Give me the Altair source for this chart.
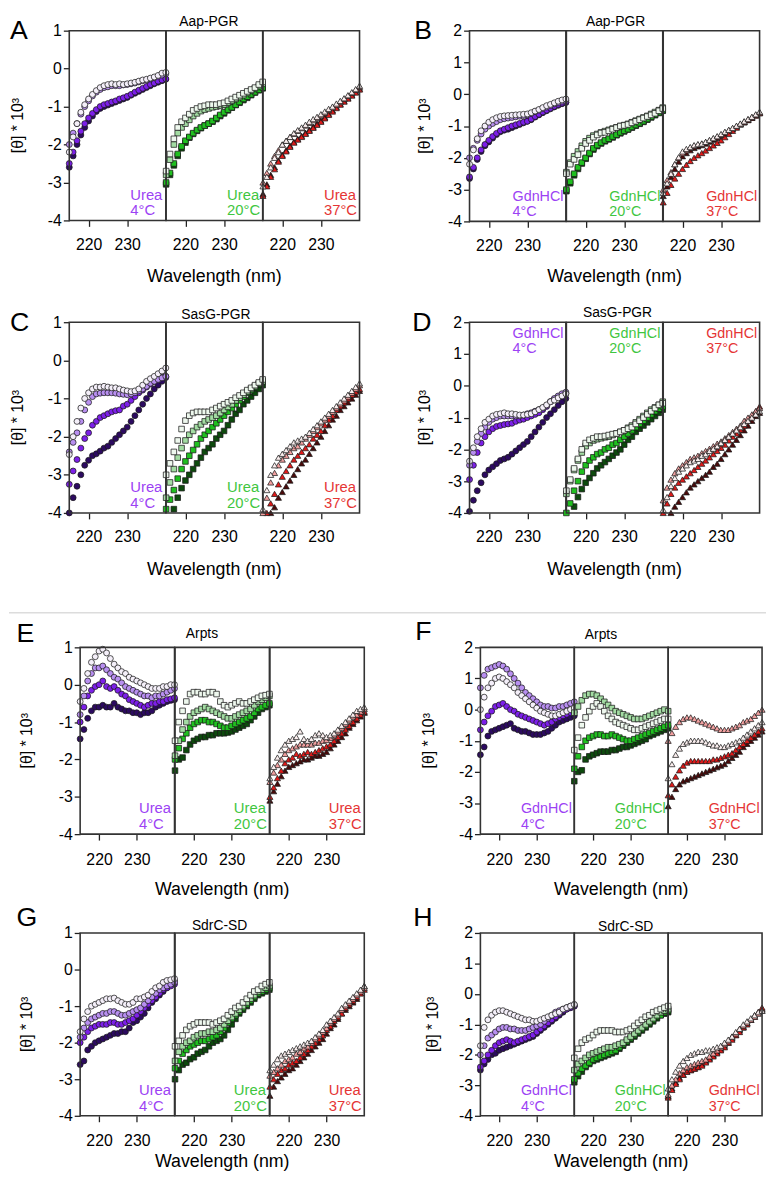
import altair as alt
import pandas as pd

FONT = "Liberation Sans"
WL = list(range(215, 241))
TEMPS = ["4°C", "20°C", "37°C"]
SHAPES = ["circle", "square", "triangle-up"]
SIZES = [36, 32, 38]
# series order in each list: lightest (white), light, medium, dark
SHADES = [
    ["#f4eff9", "#b88ff0", "#7c1fe8", "#2c0a60"],
    ["#eef8ee", "#a3dca3", "#20c020", "#0d4a0d"],
    ["#faeeee", "#f2a0a0", "#e01a1a", "#4a0a0a"],
]
TEXT_COLORS = ["#9c42f4", "#3fc63f", "#e53535"]

# ---------------- Panel A: Aap-PGR, Urea ----------------
A_4 = [
    [-2.2,-1.8,-1.45,-1.15,-0.95,-0.8,-0.68,-0.58,-0.5,-0.45,-0.42,-0.4,-0.42,-0.4,-0.42,-0.4,-0.38,-0.36,-0.33,-0.3,-0.28,-0.25,-0.22,-0.18,-0.12,-0.1],
    [-2.0,-1.7,-1.45,-1.2,-1.0,-0.85,-0.72,-0.62,-0.55,-0.5,-0.48,-0.45,-0.45,-0.45,-0.43,-0.42,-0.4,-0.38,-0.35,-0.32,-0.3,-0.27,-0.24,-0.2,-0.17,-0.14],
    [-2.5,-2.2,-1.9,-1.65,-1.45,-1.3,-1.18,-1.08,-1.0,-0.95,-0.92,-0.88,-0.85,-0.8,-0.77,-0.73,-0.68,-0.62,-0.57,-0.52,-0.47,-0.42,-0.38,-0.33,-0.3,-0.27],
    [-2.6,-2.3,-2.0,-1.75,-1.55,-1.38,-1.25,-1.13,-1.05,-1.0,-0.96,-0.92,-0.88,-0.84,-0.8,-0.76,-0.7,-0.65,-0.6,-0.55,-0.5,-0.45,-0.4,-0.36,-0.32,-0.28],
]
A_20 = [
    [-2.7,-2.25,-1.85,-1.55,-1.4,-1.3,-1.2,-1.1,-1.05,-1.0,-0.98,-0.95,-0.95,-0.95,-0.92,-0.9,-0.85,-0.8,-0.75,-0.7,-0.65,-0.6,-0.55,-0.5,-0.42,-0.35],
    [-2.8,-2.4,-2.0,-1.7,-1.55,-1.45,-1.35,-1.25,-1.18,-1.12,-1.08,-1.05,-1.02,-1.0,-0.98,-0.95,-0.9,-0.85,-0.8,-0.75,-0.7,-0.64,-0.58,-0.52,-0.46,-0.4],
    [-3.0,-2.75,-2.5,-2.25,-2.05,-1.9,-1.8,-1.7,-1.62,-1.55,-1.5,-1.45,-1.38,-1.3,-1.22,-1.15,-1.08,-1.02,-0.95,-0.88,-0.8,-0.74,-0.68,-0.62,-0.56,-0.5],
    [-3.05,-2.8,-2.55,-2.3,-2.1,-1.95,-1.82,-1.72,-1.64,-1.57,-1.5,-1.45,-1.4,-1.33,-1.25,-1.18,-1.1,-1.03,-0.96,-0.9,-0.83,-0.77,-0.7,-0.63,-0.57,-0.52],
]
A_37 = [
    [-3.1,-2.85,-2.6,-2.35,-2.2,-2.0,-1.9,-1.8,-1.7,-1.62,-1.55,-1.48,-1.4,-1.33,-1.27,-1.2,-1.13,-1.06,-1.0,-0.92,-0.85,-0.78,-0.7,-0.62,-0.54,-0.45],
    [-3.0,-2.75,-2.5,-2.3,-2.15,-2.0,-1.9,-1.8,-1.72,-1.64,-1.57,-1.5,-1.43,-1.36,-1.3,-1.23,-1.16,-1.09,-1.02,-0.95,-0.88,-0.8,-0.72,-0.64,-0.56,-0.48],
    [-3.35,-3.1,-2.85,-2.65,-2.45,-2.3,-2.18,-2.06,-1.95,-1.87,-1.8,-1.72,-1.64,-1.56,-1.48,-1.4,-1.31,-1.22,-1.13,-1.04,-0.95,-0.87,-0.79,-0.71,-0.63,-0.55],
    [-3.3,-3.05,-2.8,-2.6,-2.42,-2.27,-2.15,-2.03,-1.93,-1.85,-1.77,-1.69,-1.61,-1.53,-1.45,-1.37,-1.28,-1.19,-1.1,-1.01,-0.93,-0.85,-0.77,-0.69,-0.61,-0.53],
]
# ---------------- Panel B: Aap-PGR, GdnHCl ----------------
B_4 = [
    [-2.2,-1.75,-1.4,-1.15,-1.0,-0.88,-0.8,-0.74,-0.7,-0.68,-0.67,-0.66,-0.65,-0.64,-0.63,-0.62,-0.58,-0.53,-0.48,-0.42,-0.36,-0.32,-0.27,-0.22,-0.18,-0.15],
    [-2.0,-1.7,-1.45,-1.25,-1.1,-1.0,-0.92,-0.86,-0.8,-0.77,-0.75,-0.73,-0.71,-0.69,-0.67,-0.65,-0.6,-0.55,-0.5,-0.45,-0.4,-0.35,-0.3,-0.26,-0.22,-0.2],
    [-2.6,-2.3,-2.0,-1.75,-1.58,-1.45,-1.33,-1.23,-1.15,-1.1,-1.05,-1.0,-0.96,-0.92,-0.88,-0.85,-0.78,-0.7,-0.63,-0.56,-0.5,-0.44,-0.38,-0.32,-0.28,-0.25],
    [-2.65,-2.35,-2.05,-1.8,-1.62,-1.5,-1.38,-1.27,-1.18,-1.13,-1.1,-1.05,-1.0,-0.95,-0.9,-0.85,-0.8,-0.72,-0.65,-0.58,-0.52,-0.46,-0.4,-0.35,-0.3,-0.26],
]
B_20 = [
    [-2.5,-2.2,-2.05,-1.9,-1.7,-1.55,-1.45,-1.35,-1.28,-1.22,-1.2,-1.15,-1.1,-1.05,-1.0,-0.98,-0.95,-0.9,-0.85,-0.8,-0.75,-0.7,-0.65,-0.6,-0.52,-0.45],
    [-2.45,-2.15,-1.95,-1.8,-1.62,-1.48,-1.38,-1.3,-1.25,-1.2,-1.16,-1.12,-1.08,-1.04,-1.0,-0.97,-0.93,-0.88,-0.83,-0.78,-0.73,-0.68,-0.62,-0.56,-0.5,-0.42],
    [-3.0,-2.75,-2.5,-2.3,-2.15,-2.0,-1.85,-1.7,-1.6,-1.52,-1.45,-1.4,-1.33,-1.27,-1.2,-1.15,-1.1,-1.03,-0.97,-0.91,-0.85,-0.78,-0.71,-0.64,-0.57,-0.5],
    [-3.05,-2.8,-2.55,-2.35,-2.18,-2.03,-1.88,-1.74,-1.63,-1.55,-1.48,-1.42,-1.36,-1.29,-1.23,-1.17,-1.11,-1.05,-0.99,-0.93,-0.87,-0.8,-0.73,-0.66,-0.59,-0.52],
]
B_37 = [
    [-3.1,-2.8,-2.5,-2.2,-1.98,-1.8,-1.72,-1.66,-1.6,-1.57,-1.55,-1.5,-1.44,-1.38,-1.32,-1.25,-1.18,-1.12,-1.06,-0.99,-0.92,-0.85,-0.78,-0.71,-0.63,-0.55],
    [-3.0,-2.7,-2.45,-2.2,-2.0,-1.85,-1.76,-1.68,-1.62,-1.58,-1.55,-1.5,-1.45,-1.39,-1.33,-1.27,-1.2,-1.13,-1.07,-1.0,-0.93,-0.86,-0.79,-0.72,-0.65,-0.58],
    [-3.4,-3.1,-2.85,-2.65,-2.5,-2.35,-2.22,-2.1,-2.0,-1.92,-1.85,-1.77,-1.69,-1.61,-1.53,-1.45,-1.35,-1.25,-1.15,-1.05,-0.95,-0.88,-0.81,-0.74,-0.67,-0.6],
    [-3.2,-2.9,-2.6,-2.35,-2.12,-1.95,-1.85,-1.76,-1.69,-1.64,-1.6,-1.55,-1.49,-1.43,-1.37,-1.3,-1.23,-1.16,-1.09,-1.02,-0.95,-0.88,-0.81,-0.74,-0.66,-0.58],
]
# ---------------- Panel C: SasG-PGR, Urea ----------------
C_4 = [
    [-2.47,-2.0,-1.6,-1.25,-1.0,-0.85,-0.75,-0.7,-0.7,-0.68,-0.7,-0.72,-0.72,-0.75,-0.78,-0.8,-0.82,-0.8,-0.75,-0.65,-0.55,-0.48,-0.42,-0.35,-0.28,-0.2],
    [-2.4,-2.15,-1.9,-1.6,-1.3,-1.1,-0.95,-0.88,-0.86,-0.85,-0.85,-0.85,-0.86,-0.88,-0.89,-0.9,-0.88,-0.85,-0.8,-0.75,-0.68,-0.6,-0.55,-0.5,-0.46,-0.42],
    [-3.25,-2.9,-2.6,-2.3,-2.05,-1.9,-1.7,-1.6,-1.5,-1.45,-1.4,-1.35,-1.32,-1.3,-1.2,-1.15,-1.05,-0.95,-0.85,-0.78,-0.7,-0.62,-0.55,-0.5,-0.45,-0.42],
    [-4.0,-3.6,-3.3,-3.0,-2.75,-2.62,-2.5,-2.45,-2.38,-2.3,-2.25,-2.15,-2.05,-1.95,-1.85,-1.75,-1.6,-1.45,-1.3,-1.15,-1.0,-0.88,-0.75,-0.65,-0.55,-0.45],
]
C_20 = [
    [-3.0,-2.7,-2.4,-2.1,-1.8,-1.58,-1.45,-1.38,-1.35,-1.35,-1.35,-1.35,-1.3,-1.25,-1.2,-1.15,-1.1,-1.05,-0.98,-0.92,-0.85,-0.78,-0.72,-0.65,-0.58,-0.5],
    [-3.6,-3.2,-2.85,-2.55,-2.3,-2.1,-1.95,-1.85,-1.75,-1.68,-1.6,-1.55,-1.5,-1.45,-1.38,-1.3,-1.22,-1.15,-1.05,-0.98,-0.9,-0.82,-0.75,-0.68,-0.6,-0.55],
    [-3.9,-3.65,-3.4,-3.1,-2.85,-2.65,-2.5,-2.35,-2.2,-2.05,-1.95,-1.85,-1.75,-1.65,-1.55,-1.45,-1.35,-1.25,-1.15,-1.05,-0.95,-0.85,-0.78,-0.7,-0.62,-0.55],
    [None,None,-3.9,-3.6,-3.35,-3.15,-3.0,-2.85,-2.7,-2.55,-2.4,-2.3,-2.2,-2.05,-1.95,-1.85,-1.7,-1.55,-1.4,-1.3,-1.15,-1.05,-0.95,-0.85,-0.75,-0.65],
]
C_37 = [
    [-3.9,-3.4,-3.0,-2.75,-2.55,-2.45,-2.35,-2.25,-2.15,-2.1,-2.05,-2.0,-1.9,-1.8,-1.7,-1.6,-1.5,-1.4,-1.3,-1.2,-1.1,-1.0,-0.9,-0.8,-0.7,-0.6],
    [-4.0,-3.6,-3.2,-2.95,-2.75,-2.6,-2.5,-2.4,-2.3,-2.25,-2.15,-2.05,-1.95,-1.85,-1.75,-1.65,-1.55,-1.45,-1.35,-1.25,-1.15,-1.05,-0.95,-0.85,-0.75,-0.65],
    [None,-4.0,-3.75,-3.5,-3.25,-3.05,-2.9,-2.75,-2.6,-2.5,-2.4,-2.3,-2.2,-2.05,-1.95,-1.85,-1.7,-1.55,-1.45,-1.3,-1.2,-1.1,-1.0,-0.9,-0.82,-0.75],
    [None,None,-4.0,-3.85,-3.6,-3.45,-3.3,-3.15,-3.0,-2.85,-2.7,-2.6,-2.45,-2.3,-2.15,-2.0,-1.85,-1.7,-1.55,-1.45,-1.3,-1.2,-1.1,-1.0,-0.9,-0.8],
]
# ---------------- Panel D: SasG-PGR, GdnHCl ----------------
D_4 = [
    [-2.37,-1.95,-1.6,-1.35,-1.15,-1.05,-0.95,-0.9,-0.88,-0.85,-0.88,-0.88,-0.9,-0.92,-0.92,-0.9,-0.88,-0.82,-0.75,-0.68,-0.6,-0.5,-0.45,-0.38,-0.32,-0.25],
    [-2.5,-2.1,-1.75,-1.5,-1.3,-1.15,-1.05,-1.0,-0.95,-0.95,-0.95,-0.95,-0.95,-0.95,-0.92,-0.88,-0.85,-0.8,-0.75,-0.7,-0.62,-0.5,-0.4,-0.32,-0.25,-0.2],
    [-2.95,-2.5,-2.1,-1.8,-1.6,-1.45,-1.35,-1.28,-1.25,-1.22,-1.2,-1.18,-1.12,-1.08,-1.05,-1.0,-0.95,-0.9,-0.85,-0.75,-0.65,-0.5,-0.42,-0.35,-0.3,-0.25],
    [-3.95,-3.6,-3.3,-3.05,-2.8,-2.65,-2.55,-2.45,-2.35,-2.3,-2.25,-2.15,-2.05,-1.95,-1.85,-1.75,-1.6,-1.45,-1.3,-1.15,-1.0,-0.88,-0.75,-0.62,-0.5,-0.4],
]
D_20 = [
    [-3.3,-2.95,-2.6,-2.3,-2.0,-1.8,-1.7,-1.65,-1.6,-1.6,-1.58,-1.55,-1.52,-1.5,-1.45,-1.4,-1.35,-1.3,-1.2,-1.1,-1.0,-0.9,-0.8,-0.7,-0.6,-0.55],
    [-3.4,-3.0,-2.65,-2.35,-2.1,-1.9,-1.8,-1.72,-1.68,-1.65,-1.62,-1.6,-1.55,-1.5,-1.45,-1.4,-1.32,-1.25,-1.15,-1.05,-0.95,-0.85,-0.75,-0.68,-0.6,-0.5],
    [-4.0,-3.7,-3.3,-3.0,-2.7,-2.5,-2.35,-2.25,-2.15,-2.1,-2.0,-1.95,-1.85,-1.8,-1.7,-1.6,-1.5,-1.4,-1.3,-1.2,-1.1,-1.0,-0.9,-0.8,-0.72,-0.65],
    [None,None,-3.8,-3.5,-3.25,-3.05,-2.9,-2.75,-2.6,-2.5,-2.4,-2.3,-2.2,-2.1,-2.0,-1.85,-1.7,-1.6,-1.45,-1.35,-1.25,-1.15,-1.05,-0.95,-0.85,-0.75],
]
D_37 = [
    [-3.9,-3.5,-3.15,-2.9,-2.7,-2.6,-2.5,-2.4,-2.35,-2.3,-2.2,-2.15,-2.05,-1.98,-1.9,-1.8,-1.7,-1.6,-1.5,-1.4,-1.3,-1.2,-1.1,-1.0,-0.9,-0.8],
    [-3.6,-3.2,-2.95,-2.75,-2.6,-2.5,-2.4,-2.3,-2.25,-2.2,-2.12,-2.05,-1.98,-1.9,-1.82,-1.75,-1.65,-1.55,-1.45,-1.35,-1.25,-1.1,-1.0,-0.9,-0.8,-0.7],
    [-4.0,-3.7,-3.4,-3.2,-3.05,-2.95,-2.85,-2.75,-2.65,-2.55,-2.45,-2.35,-2.25,-2.15,-2.05,-1.95,-1.85,-1.72,-1.6,-1.5,-1.38,-1.25,-1.1,-0.95,-0.8,-0.65],
    [None,None,-4.0,-3.8,-3.65,-3.5,-3.35,-3.2,-3.1,-3.0,-2.9,-2.8,-2.7,-2.55,-2.45,-2.3,-2.15,-2.0,-1.85,-1.7,-1.55,-1.4,-1.25,-1.1,-0.95,-0.85],
]
# ---------------- Panel E: Arpts, Urea ----------------
E_4 = [
    [-0.45,-0.1,0.3,0.6,0.75,0.9,0.95,0.85,0.7,0.55,0.45,0.35,0.3,0.2,0.15,0.1,0.05,0.0,-0.05,-0.1,-0.1,-0.1,-0.05,-0.05,0.0,0.0],
    [-0.8,-0.3,0.1,0.3,0.45,0.45,0.5,0.4,0.3,0.2,0.15,0.05,-0.05,-0.1,-0.15,-0.2,-0.25,-0.3,-0.3,-0.35,-0.3,-0.3,-0.25,-0.2,-0.15,-0.1],
    [-1.0,-0.6,-0.3,-0.15,-0.05,0.0,0.1,-0.05,-0.1,-0.05,-0.15,-0.25,-0.3,-0.4,-0.45,-0.5,-0.55,-0.6,-0.55,-0.5,-0.5,-0.45,-0.45,-0.4,-0.38,-0.35],
    [-1.45,-1.2,-0.9,-0.7,-0.6,-0.6,-0.55,-0.6,-0.6,-0.5,-0.6,-0.65,-0.7,-0.7,-0.75,-0.75,-0.8,-0.75,-0.75,-0.7,-0.6,-0.55,-0.5,-0.45,-0.42,-0.4],
]
E_20 = [
    [-1.5,-1.0,-0.7,-0.45,-0.25,-0.2,-0.2,-0.25,-0.25,-0.2,-0.2,-0.25,-0.45,-0.55,-0.6,-0.55,-0.5,-0.45,-0.5,-0.5,-0.45,-0.4,-0.35,-0.3,-0.28,-0.25],
    [-1.9,-1.5,-1.2,-1.0,-0.85,-0.75,-0.7,-0.65,-0.6,-0.65,-0.7,-0.75,-0.8,-0.85,-0.9,-0.9,-0.85,-0.8,-0.75,-0.7,-0.65,-0.55,-0.45,-0.4,-0.35,-0.3],
    [-2.0,-1.7,-1.45,-1.3,-1.15,-1.05,-1.0,-0.95,-0.95,-1.0,-1.0,-1.05,-1.1,-1.15,-1.15,-1.1,-1.05,-1.0,-0.95,-0.9,-0.85,-0.75,-0.65,-0.6,-0.55,-0.5],
    [-2.3,-2.0,-1.95,-1.75,-1.6,-1.5,-1.45,-1.4,-1.4,-1.35,-1.35,-1.3,-1.3,-1.3,-1.28,-1.25,-1.2,-1.15,-1.1,-1.05,-0.95,-0.85,-0.75,-0.65,-0.6,-0.55],
]
E_37 = [
    [-2.5,-2.2,-1.95,-1.75,-1.6,-1.5,-1.45,-1.4,-1.25,-1.45,-1.5,-1.45,-1.35,-1.3,-1.35,-1.4,-1.35,-1.3,-1.2,-1.1,-1.0,-0.9,-0.8,-0.7,-0.65,-0.6],
    [-2.6,-2.35,-2.15,-2.0,-1.85,-1.75,-1.7,-1.65,-1.6,-1.6,-1.6,-1.6,-1.55,-1.55,-1.5,-1.48,-1.42,-1.35,-1.25,-1.15,-1.05,-0.95,-0.85,-0.8,-0.72,-0.65],
    [-3.0,-2.75,-2.5,-2.3,-2.1,-2.0,-1.95,-1.85,-1.9,-1.85,-1.8,-1.85,-1.8,-1.75,-1.7,-1.65,-1.6,-1.5,-1.4,-1.3,-1.2,-1.1,-1.0,-0.9,-0.8,-0.72],
    [-3.1,-2.85,-2.65,-2.45,-2.3,-2.2,-2.15,-2.1,-2.05,-2.0,-2.0,-1.95,-1.9,-1.9,-1.85,-1.8,-1.7,-1.6,-1.5,-1.4,-1.3,-1.15,-1.05,-0.95,-0.85,-0.75],
]
# ---------------- Panel F: Arpts, GdnHCl ----------------
F_4 = [
    [0.0,0.4,0.7,0.85,1.0,1.05,1.0,0.9,0.8,0.7,0.55,0.45,0.35,0.25,0.15,0.05,-0.05,-0.1,-0.15,-0.2,-0.2,-0.15,-0.1,-0.05,0.0,0.05],
    [0.7,1.1,1.3,1.35,1.4,1.45,1.4,1.3,1.15,1.0,0.85,0.7,0.55,0.45,0.35,0.25,0.15,0.1,0.1,0.05,0.05,0.1,0.1,0.15,0.2,0.25],
    [-0.65,-0.4,-0.2,-0.05,0.1,0.15,0.2,0.1,0.0,-0.05,-0.15,-0.2,-0.25,-0.3,-0.35,-0.4,-0.45,-0.5,-0.45,-0.4,-0.3,-0.25,-0.2,-0.15,-0.1,-0.08],
    [-1.45,-1.2,-0.85,-0.7,-0.65,-0.6,-0.55,-0.5,-0.45,-0.6,-0.65,-0.7,-0.7,-0.75,-0.8,-0.8,-0.8,-0.75,-0.7,-0.6,-0.5,-0.4,-0.35,-0.3,-0.25,-0.2],
]
F_20 = [
    [-1.3,-0.9,-0.5,-0.25,-0.05,0.1,0.2,0.1,-0.05,-0.2,-0.3,-0.4,-0.45,-0.5,-0.55,-0.6,-0.65,-0.65,-0.6,-0.55,-0.5,-0.45,-0.4,-0.35,-0.3,-0.3],
    [-0.1,0.1,0.3,0.45,0.5,0.5,0.45,0.35,0.25,0.15,0.05,-0.05,-0.1,-0.15,-0.2,-0.25,-0.3,-0.3,-0.3,-0.25,-0.2,-0.15,-0.1,-0.05,0.0,-0.05],
    [-1.9,-1.5,-1.2,-1.0,-0.9,-0.85,-0.8,-0.8,-0.85,-0.85,-0.8,-0.85,-0.9,-0.95,-1.0,-1.0,-0.95,-0.9,-0.85,-0.8,-0.75,-0.7,-0.65,-0.6,-0.55,-0.5],
    [-2.3,-2.0,-1.95,-1.6,-1.5,-1.45,-1.4,-1.35,-1.35,-1.35,-1.3,-1.3,-1.25,-1.2,-1.2,-1.15,-1.1,-1.05,-1.0,-0.95,-0.85,-0.8,-0.75,-0.7,-0.65,-0.6],
]
F_37 = [
    [-2.2,-1.75,-1.45,-1.25,-1.1,-1.05,-1.0,-1.0,-1.0,-1.0,-1.05,-1.1,-1.15,-1.15,-1.2,-1.2,-1.15,-1.1,-1.05,-1.0,-0.9,-0.8,-0.7,-0.6,-0.5,-0.4],
    [-1.0,-0.75,-0.55,-0.4,-0.3,-0.25,-0.25,-0.3,-0.35,-0.4,-0.45,-0.5,-0.55,-0.6,-0.65,-0.65,-0.65,-0.6,-0.55,-0.5,-0.4,-0.35,-0.3,-0.2,-0.1,0.0],
    [-2.75,-2.4,-2.15,-1.95,-1.8,-1.7,-1.65,-1.65,-1.65,-1.65,-1.65,-1.65,-1.6,-1.6,-1.55,-1.5,-1.45,-1.4,-1.3,-1.2,-1.1,-1.0,-0.9,-0.8,-0.7,-0.6],
    [-3.1,-2.8,-2.55,-2.4,-2.3,-2.25,-2.2,-2.15,-2.1,-2.05,-2.0,-1.95,-1.9,-1.85,-1.8,-1.75,-1.65,-1.55,-1.45,-1.35,-1.2,-1.1,-1.0,-0.9,-0.8,-0.7],
]
# ---------------- Panel G: SdrC-SD, Urea ----------------
G_4 = [
    [-1.7,-1.35,-1.15,-1.0,-0.95,-0.9,-0.85,-0.8,-0.8,-0.78,-0.85,-0.9,-0.95,-0.95,-0.9,-0.8,-0.8,-0.75,-0.7,-0.6,-0.5,-0.45,-0.35,-0.3,-0.28,-0.25],
    [-1.85,-1.6,-1.45,-1.35,-1.3,-1.25,-1.2,-1.2,-1.15,-1.15,-1.2,-1.25,-1.25,-1.2,-1.15,-1.1,-1.05,-0.95,-0.85,-0.75,-0.65,-0.55,-0.5,-0.45,-0.4,-0.35],
    [-2.0,-1.85,-1.7,-1.6,-1.55,-1.5,-1.5,-1.5,-1.45,-1.45,-1.5,-1.5,-1.45,-1.4,-1.35,-1.25,-1.15,-1.05,-0.95,-0.85,-0.75,-0.65,-0.55,-0.5,-0.45,-0.4],
    [-2.6,-2.5,-2.2,-2.1,-2.0,-1.95,-1.9,-1.85,-1.8,-1.75,-1.75,-1.7,-1.7,-1.6,-1.45,-1.4,-1.3,-1.2,-1.05,-0.9,-0.8,-0.7,-0.6,-0.5,-0.4,-0.3],
]
G_20 = [
    [-2.1,-1.95,-1.8,-1.65,-1.55,-1.5,-1.45,-1.45,-1.45,-1.45,-1.5,-1.45,-1.4,-1.35,-1.25,-1.15,-1.05,-1.0,-0.9,-0.8,-0.7,-0.6,-0.55,-0.45,-0.4,-0.35],
    [-2.5,-2.25,-2.1,-2.0,-1.95,-1.85,-1.8,-1.75,-1.75,-1.7,-1.7,-1.65,-1.6,-1.5,-1.4,-1.3,-1.2,-1.1,-1.0,-0.9,-0.8,-0.7,-0.6,-0.55,-0.5,-0.45],
    [-2.7,-2.5,-2.3,-2.2,-2.1,-2.05,-2.0,-1.95,-1.95,-1.9,-1.85,-1.8,-1.7,-1.6,-1.45,-1.35,-1.25,-1.15,-1.05,-0.95,-0.85,-0.75,-0.65,-0.6,-0.55,-0.5],
    [-3.0,-2.75,-2.6,-2.55,-2.45,-2.4,-2.3,-2.25,-2.2,-2.1,-2.0,-1.95,-1.9,-1.8,-1.65,-1.5,-1.35,-1.2,-1.1,-1.0,-0.9,-0.8,-0.7,-0.65,-0.6,-0.55],
]
G_37 = [
    [-2.75,-2.6,-2.45,-2.35,-2.3,-2.25,-2.2,-2.15,-2.1,-2.05,-2.0,-1.95,-1.85,-1.75,-1.65,-1.5,-1.4,-1.3,-1.2,-1.05,-0.95,-0.85,-0.75,-0.65,-0.55,-0.45],
    [-2.9,-2.8,-2.7,-2.6,-2.5,-2.45,-2.4,-2.3,-2.25,-2.15,-2.1,-2.0,-1.9,-1.8,-1.7,-1.6,-1.45,-1.35,-1.25,-1.1,-1.0,-0.9,-0.8,-0.7,-0.6,-0.5],
    [-3.2,-3.0,-2.85,-2.75,-2.7,-2.6,-2.55,-2.5,-2.4,-2.3,-2.2,-2.1,-2.0,-1.9,-1.8,-1.65,-1.55,-1.4,-1.3,-1.2,-1.05,-0.95,-0.85,-0.75,-0.65,-0.55],
    [-3.45,-3.2,-3.05,-2.95,-2.85,-2.75,-2.7,-2.6,-2.5,-2.4,-2.3,-2.2,-2.1,-2.0,-1.9,-1.75,-1.6,-1.5,-1.35,-1.2,-1.1,-1.0,-0.9,-0.8,-0.65,-0.45],
]
# ---------------- Panel H: SdrC-SD, GdnHCl ----------------
H_4 = [
    [-1.7,-1.1,-0.85,-0.7,-0.6,-0.55,-0.55,-0.6,-0.65,-0.7,-0.75,-0.8,-0.85,-0.85,-0.9,-0.9,-0.85,-0.8,-0.75,-0.7,-0.65,-0.6,-0.5,-0.45,-0.4,-0.35],
    [-2.0,-1.7,-1.45,-1.35,-1.25,-1.15,-1.1,-1.1,-1.15,-1.15,-1.2,-1.2,-1.2,-1.15,-1.1,-1.05,-1.0,-0.9,-0.8,-0.7,-0.6,-0.55,-0.5,-0.45,-0.4,-0.35],
    [-2.4,-2.2,-2.0,-1.85,-1.7,-1.6,-1.55,-1.5,-1.55,-1.6,-1.55,-1.5,-1.45,-1.4,-1.35,-1.25,-1.15,-1.05,-0.95,-0.85,-0.75,-0.65,-0.55,-0.5,-0.45,-0.4],
    [-2.5,-2.3,-2.15,-2.0,-1.95,-1.85,-1.8,-1.75,-1.7,-1.65,-1.6,-1.55,-1.5,-1.45,-1.4,-1.3,-1.2,-1.1,-1.0,-0.9,-0.8,-0.7,-0.6,-0.5,-0.45,-0.4],
]
H_20 = [
    [-2.1,-1.8,-1.6,-1.5,-1.45,-1.35,-1.25,-1.2,-1.2,-1.2,-1.2,-1.25,-1.25,-1.25,-1.2,-1.15,-1.05,-0.95,-0.85,-0.75,-0.7,-0.6,-0.55,-0.5,-0.45,-0.4],
    [-2.5,-2.3,-2.2,-2.1,-2.0,-1.95,-1.9,-1.85,-1.8,-1.75,-1.75,-1.7,-1.65,-1.6,-1.5,-1.4,-1.3,-1.2,-1.1,-1.0,-0.9,-0.8,-0.7,-0.6,-0.55,-0.5],
    [-2.8,-2.6,-2.45,-2.35,-2.25,-2.15,-2.1,-2.05,-2.0,-1.95,-1.9,-1.85,-1.75,-1.65,-1.55,-1.45,-1.35,-1.25,-1.15,-1.05,-0.95,-0.85,-0.75,-0.7,-0.6,-0.55],
    [-2.9,-2.7,-2.55,-2.4,-2.3,-2.2,-2.15,-2.1,-2.05,-2.0,-1.95,-1.9,-1.8,-1.7,-1.6,-1.5,-1.4,-1.3,-1.2,-1.1,-1.0,-0.9,-0.8,-0.7,-0.65,-0.6],
]
H_37 = [
    [-3.1,-2.8,-2.55,-2.35,-2.2,-2.1,-2.0,-1.95,-1.9,-1.9,-1.85,-1.85,-1.8,-1.75,-1.7,-1.6,-1.5,-1.4,-1.25,-1.15,-1.0,-0.9,-0.8,-0.7,-0.6,-0.55],
    [-3.3,-3.0,-2.8,-2.6,-2.5,-2.4,-2.35,-2.3,-2.25,-2.2,-2.15,-2.05,-1.95,-1.85,-1.75,-1.65,-1.55,-1.4,-1.3,-1.15,-1.05,-0.95,-0.85,-0.75,-0.65,-0.55],
    [-3.4,-3.15,-2.95,-2.8,-2.65,-2.55,-2.5,-2.45,-2.4,-2.35,-2.25,-2.15,-2.05,-1.95,-1.85,-1.75,-1.6,-1.5,-1.35,-1.25,-1.1,-1.0,-0.85,-0.75,-0.6,-0.45],
    [-3.35,-3.1,-2.9,-2.75,-2.65,-2.55,-2.5,-2.45,-2.4,-2.3,-2.2,-2.1,-2.0,-1.9,-1.8,-1.7,-1.6,-1.45,-1.35,-1.2,-1.1,-0.95,-0.85,-0.7,-0.6,-0.5],
]

# ---------------- panel layout settings ----------------
PANELS = {
    "A": dict(name="Aap-PGR", agent="Urea", ymax=1, data=[A_4, A_20, A_37], W=97.7, H=192,
              ann="bottom", letter=(-60, 8), ytx=-47, tdx=-5.5, tdy=-5, xtd=62.5, lpad=10),
    "B": dict(name="Aap-PGR", agent="GdnHCl", ymax=2, data=[B_4, B_20, B_37], W=97.5, H=193,
              ann="bottom", letter=(-56, 8), ytx=-40, tdx=1, tdy=-5, xtd=61.5, lpad=10),
    "C": dict(name="SasG-PGR", agent="Urea", ymax=1, data=[C_4, C_20, C_37], W=97.7, H=193,
              ann="bottom", letter=(-60, 9), ytx=-47, tdx=1.5, tdy=-3, xtd=63, lpad=10),
    "D": dict(name="SasG-PGR", agent="GdnHCl", ymax=2, data=[D_4, D_20, D_37], W=97.5, H=193,
              ann="top", letter=(-58, 9), ytx=-40, tdx=3, tdy=-5, xtd=63, lpad=10),
    "E": dict(name="Arpts", agent="Urea", ymax=1, data=[E_4, E_20, E_37], W=95.5, H=189,
              ann="bottom", letter=(-64.5, -5), ytx=-48.5, tdx=-20.5, tdy=-9, xtd=62, lpad=12),
    "F": dict(name="Arpts", agent="GdnHCl", ymax=2, data=[F_4, F_20, F_37], W=95, H=189,
              ann="bottom", letter=(-66, -7), ytx=-47, tdx=-20.5, tdy=-8, xtd=62, lpad=12),
    "G": dict(name="SdrC-SD", agent="Urea", ymax=1, data=[G_4, G_20, G_37], W=95.5, H=185,
              ann="bottom", letter=(-64.5, -7), ytx=-48.5, tdx=-2.7, tdy=-3, xtd=52, lpad=11),
    "H": dict(name="SdrC-SD", agent="GdnHCl", ymax=2, data=[H_4, H_20, H_37], W=95, H=185,
              ann="bottom", letter=(-68, -7), ytx=-43, tdx=4.5, tdy=-2, xtd=52, lpad=11),
}

ONE = pd.DataFrame({"k": [0]})


def txt(s, x, y, size, color="black", align="left", angle=0):
    kw = dict(text=s, fontSize=size, color=color, align=align, baseline="alphabetic", font=FONT)
    if angle:
        kw["angle"] = angle
    return alt.Chart(ONE).mark_text(**kw).encode(x=alt.value(x), y=alt.value(y))


def spacer(w, h, rule=None):
    base = alt.Chart(ONE).mark_point(opacity=0, size=0, strokeWidth=0, filled=True).encode(
        x=alt.value(3), y=alt.value(3))
    if rule is None:
        return base.properties(width=w, height=h)
    r = alt.Chart(ONE).mark_rule(color="#dcdcdc", strokeWidth=1.5).encode(
        x=alt.value(rule[0]), x2=alt.value(rule[1]), y=alt.value(rule[2]))
    return alt.layer(base, r).properties(width=w, height=h)


def sub_chart(key, ti):
    p = PANELS[key]
    W, H, ymax = p["W"], p["H"], p["ymax"]
    series = p["data"][ti]
    rows = []
    for lev in (3, 2, 1, 0):
        vals = series[lev]
        assert len(vals) == len(WL), (key, ti, lev, len(vals))
        for wl, v in zip(WL, vals):
            rows.append({"wl": wl, "v": v, "c": SHADES[ti][lev]})
    df = pd.DataFrame(rows)

    xaxis = alt.Axis(values=[220, 230], title=None, grid=False, domain=False, ticks=True,
                     tickSize=6, tickColor="#222", tickWidth=1.3, labelFontSize=16, labelFont=FONT,
                     labelColor="black", labelPadding=p["lpad"], labelAngle=0, labelFlush=False,
                     labelOverlap=False)
    if ti == 0:
        yaxis = alt.Axis(values=list(range(-4, ymax + 1)), title=None, grid=False, domain=False,
                         ticks=True, tickSize=6, tickColor="#222", tickWidth=1.3, labelFontSize=16,
                         labelFont=FONT, labelColor="black", labelPadding=2,
                         labelExpr="'' + datum.value", labelFlush=False, labelOverlap=False)
    else:
        yaxis = None

    pts = alt.Chart(df).mark_point(
        shape=SHAPES[ti], filled=True, size=SIZES[ti], stroke="#1a1a1a", strokeWidth=0.75, opacity=1
    ).encode(
        x=alt.X("wl:Q", scale=alt.Scale(domain=[215, 240], nice=False, zero=False), axis=xaxis),
        y=alt.Y("v:Q", scale=alt.Scale(domain=[-4, ymax], nice=False, zero=False), axis=yaxis),
        fill=alt.Fill("c:N", scale=None),
    )

    frame = alt.Chart(ONE).mark_rect(fillOpacity=0, stroke="#333333", strokeWidth=1.6).encode(
        x=alt.value(0), x2=alt.value(W), y=alt.value(0), y2=alt.value(H))

    layers = [pts, frame]
    if p["agent"] == "Urea":
        xa, fs = W - 36, 15
    else:
        xa, fs = W - 54, 14.5
    if p["ann"] == "bottom":
        y1, y2 = H - 21, H - 5
    else:
        y1, y2 = 16, 31
    layers.append(txt(p["agent"], xa, y1, fs, TEXT_COLORS[ti]))
    layers.append(txt(TEMPS[ti], xa, y2, fs, TEXT_COLORS[ti]))
    if ti == 0:
        lx, ly = p["letter"]
        layers.append(txt(key, lx, ly, 27))
        layers.append(txt("[θ] * 10³", p["ytx"], H / 2, 16, align="center", angle=270))
    if ti == 1:
        layers.append(txt(p["name"], W / 2 + p["tdx"], p["tdy"], 14, align="center"))
        layers.append(txt("Wavelength (nm)", W / 2, H + p["xtd"], 18, align="center"))

    return alt.layer(*layers).properties(width=W, height=H)


def grid(left_key, right_key, left2_key, right2_key, col0, mid, heights, rule=None):
    wl = PANELS[left_key]["W"]
    wr = PANELS[right_key]["W"]
    widths = [col0, wl, wl, wl, mid, wr, wr, wr]
    hdr, h1, gap, h2, foot = heights
    cells = []
    for j, w in enumerate(widths):
        cells.append(spacer(w, hdr, rule if (j == 0 and rule) else None))
    cells += [spacer(col0, h1)] + [sub_chart(left_key, t) for t in range(3)] + \
             [spacer(mid, h1)] + [sub_chart(right_key, t) for t in range(3)]
    cells += [spacer(w, gap) for w in widths]
    cells += [spacer(col0, h2)] + [sub_chart(left2_key, t) for t in range(3)] + \
             [spacer(mid, h2)] + [sub_chart(right2_key, t) for t in range(3)]
    cells += [spacer(w, foot) for w in widths]
    return alt.concat(*cells, columns=8, spacing=0, bounds="flush", align="each")


top = grid("A", "B", "C", "D", col0=61, mid=110.8, heights=[16, 193, 102, 193, 93])
bottom = grid("E", "F", "G", "H", col0=71.5, mid=117, heights=[43, 189, 100, 185, 48],
              rule=(0, 766, 8))

chart = alt.vconcat(top, bottom, spacing=0, padding=0).configure(
    font=FONT, background="white"
).configure_view(stroke=None)

chart.save("out.html", embed_options={"renderer": "svg", "actions": False})
